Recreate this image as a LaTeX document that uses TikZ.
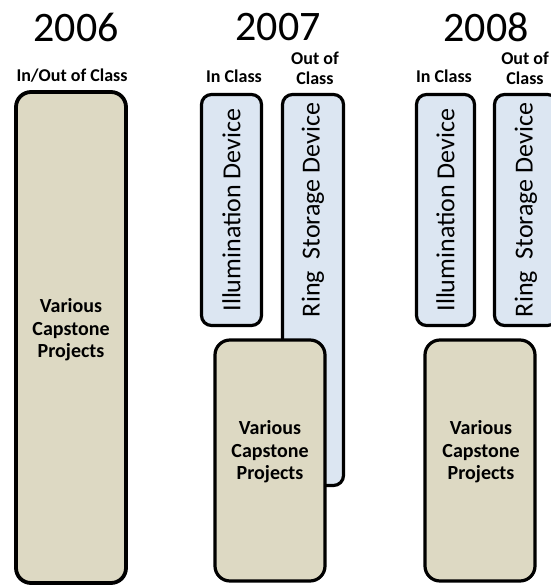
\documentclass[tikz,border=0pt]{standalone}
\usepackage{fontspec}
\setmainfont{Carlito}
\usepackage{xcolor}
\usepackage{tikz}
\usetikzlibrary{positioning}

\definecolor{tanfill}{HTML}{DDD9C3}
\definecolor{bluefill}{HTML}{DCE6F2}

\begin{document}
\begin{tikzpicture}[
    x=1pt, y=-1pt,
    box/.style={rectangle, draw=black, line width=3.2pt, rounded corners=#1, inner sep=0pt},
    box/.default=10pt,
    tanbox/.style={box=15pt, fill=tanfill},
    bluebox/.style={box=10pt, fill=bluefill},
    yearlbl/.style={inner sep=0pt, font=\fontsize{42}{46}\selectfont},
    classlbl/.style={inner sep=0pt, align=center, font=\fontsize{18}{20}\selectfont\bfseries},
    devtxt/.style={inner sep=0pt, rotate=90, font=\fontsize{26}{28}\selectfont},
    captxt/.style={inner sep=0pt, align=center, font=\fontsize{20}{22.5}\selectfont\bfseries},
]
    % --- page frame ---
    \useasboundingbox (0,0) rectangle (551,586);
    \clip (0,0) rectangle (551,586);

    % --- rows (image y, downwards) ---
    \def\yYear{27}
    \def\yCls{76}
    \def\yDev{210}

    % --- year headings ---
    \node[yearlbl] (y06) at (76, \yYear) {2006};
    \node[yearlbl] (y07) at (278, \yYear) {2007};
    \node[yearlbl] (y08) at (486, \yYear) {2008};

    % --- class labels ---
    \node[classlbl] (cls06) at (72, \yCls) {In/Out of Class};
    \node[classlbl] (in07) at (234, \yCls) {In Class};
    \node[classlbl] (out07) at (315, 68) {Out of\\Class};
    \node[classlbl] (in08) at (444, \yCls) {In Class};
    \node[classlbl] (out08) at (525, 68) {Out of\\Class};

    % --- 2006 ---
    \node[tanbox, line width=3.8pt, minimum width=110pt, minimum height=491pt] (cap06) at (71, 337.5) {};
    \node[captxt] (cap06txt) at (71, 330) {Various\\Capstone\\Projects};

    % --- 2007 ---
    \node[bluebox, minimum width=60pt, minimum height=231pt] (ill07) at (231.5, \yDev) {};
    \node[devtxt] (ill07txt) at (ill07.center) {Illumination Device};
    \node[bluebox, minimum width=61pt, minimum height=391pt] (ring07) at (313, 290) {};
    \node[devtxt] (ring07txt) at (313, \yDev) {Ring\ \ Storage Device};
    \node[tanbox, minimum width=110pt, minimum height=241pt] (cap07) at (270, 460.5) {};
    \node[captxt] (cap07txt) at (270, 452) {Various\\Capstone\\Projects};

    % --- 2008 ---
    \node[bluebox, minimum width=58pt, minimum height=231pt] (ill08) at (445.5, \yDev) {};
    \node[devtxt] (ill08txt) at (ill08.center) {Illumination Device};
    \node[bluebox, minimum width=63pt, minimum height=231pt] (ring08) at (526, \yDev) {};
    \node[devtxt] (ring08txt) at (526, \yDev) {Ring\ \ Storage Device};
    \node[tanbox, minimum width=110pt, minimum height=241pt] (cap08) at (480, 460.5) {};
    \node[captxt] (cap08txt) at (481, 452) {Various\\Capstone\\Projects};
\end{tikzpicture}
\end{document}
